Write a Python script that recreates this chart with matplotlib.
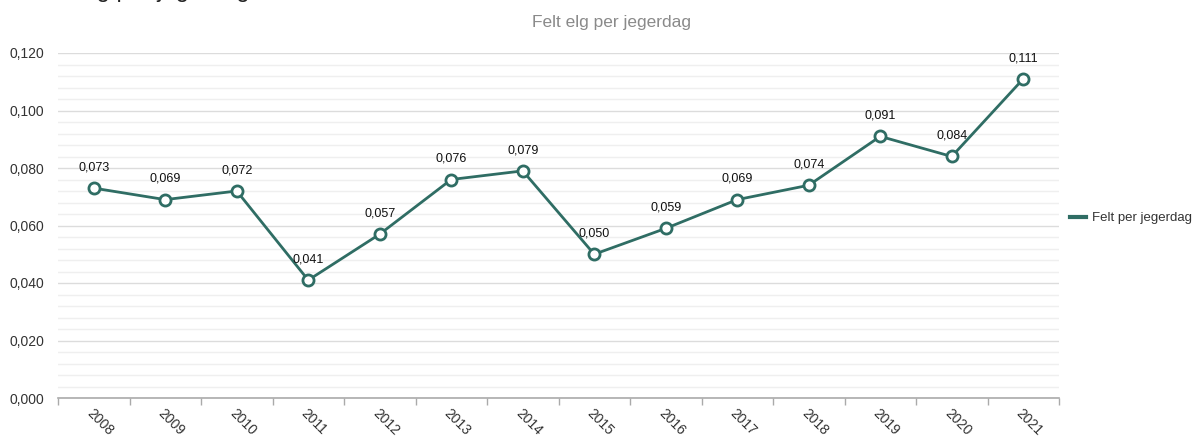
import matplotlib
matplotlib.use("Agg")
import matplotlib.pyplot as plt
from matplotlib.ticker import MultipleLocator, FixedLocator, NullFormatter

plt.rcParams['font.family'] = ['Liberation Sans', 'DejaVu Sans']

years = ["2008", "2009", "2010", "2011", "2012", "2013", "2014",
         "2015", "2016", "2017", "2018", "2019", "2020", "2021"]
values = [0.073, 0.069, 0.072, 0.041, 0.057, 0.076, 0.079,
          0.050, 0.059, 0.069, 0.074, 0.091, 0.084, 0.111]
series_name = "Felt per jegerdag"
title = "Felt elg per jegerdag"

W, H = 1202, 441
fig = plt.figure(figsize=(W / 100, H / 100), dpi=100)
ax = fig.add_axes([58 / W, 1 - 398 / H, (1059 - 58) / W, (398 - 53) / H])

color = "#2f6d64"
x = list(range(len(years)))
line, = ax.plot(x, values, color=color, lw=2, marker='o', ms=8,
                mfc='white', mec=color, mew=2, zorder=3, label=series_name)

for xi, v in zip(x, values):
    ax.annotate(f"{v:.3f}".replace('.', ','), (xi, v), xytext=(0, 15),
                textcoords='offset points', ha='center', va='center',
                fontsize=9, color='#111111', zorder=4)

ax.set_xlim(-0.5, len(years) - 0.5)
ax.set_ylim(0, 0.120)

# y ticks
ax.yaxis.set_major_locator(MultipleLocator(0.020))
ax.yaxis.set_minor_locator(MultipleLocator(0.004))
ax.set_yticklabels([f"{t:.3f}".replace('.', ',') for t in ax.get_yticks()])
ax.tick_params(axis='y', which='both', length=0, labelsize=10,
               labelcolor='#333333', pad=10)
ax.grid(axis='y', which='major', color='#dcdcdc', lw=1, zorder=0)
ax.grid(axis='y', which='minor', color='#efefef', lw=1, zorder=0)

# x ticks: category boundaries with labels at centers
ax.xaxis.set_major_locator(FixedLocator([i - 0.5 for i in range(len(years) + 1)]))
ax.xaxis.set_major_formatter(NullFormatter())
ax.xaxis.set_minor_locator(FixedLocator(x))
ax.set_xticklabels(years, minor=True, rotation=-45, ha='left',
                   rotation_mode='anchor', fontsize=10, color='#333333')
ax.tick_params(axis='x', which='major', length=5, color='#aaaaaa', width=1)
ax.tick_params(axis='x', which='minor', length=0, pad=6)

for s in ['top', 'right', 'left']:
    ax.spines[s].set_visible(False)
ax.spines['bottom'].set_color('#aaaaaa')
ax.spines['bottom'].set_linewidth(1.2)

# legend
leg_handle = plt.Line2D([], [], color=color, lw=3)
fig.legend([leg_handle], [series_name], loc='center left',
           bbox_to_anchor=(1062 / W, 1 - 218 / H), frameon=False,
           fontsize=9.5, handlelength=1.2, handletextpad=0.5,
           labelcolor='#333333', borderaxespad=0.2)

fig.text(611 / W, 1 - 22 / H, title, ha='center', va='center',
         fontsize=12.5, color='#8a8a8a')

# partially cut-off heading at very top (only descenders visible)
fig.text(32 / W, 1 + 2.5 / H, title, ha='left', va='baseline',
         fontsize=17, color='#222222')

fig.savefig("out.png", dpi=100)
